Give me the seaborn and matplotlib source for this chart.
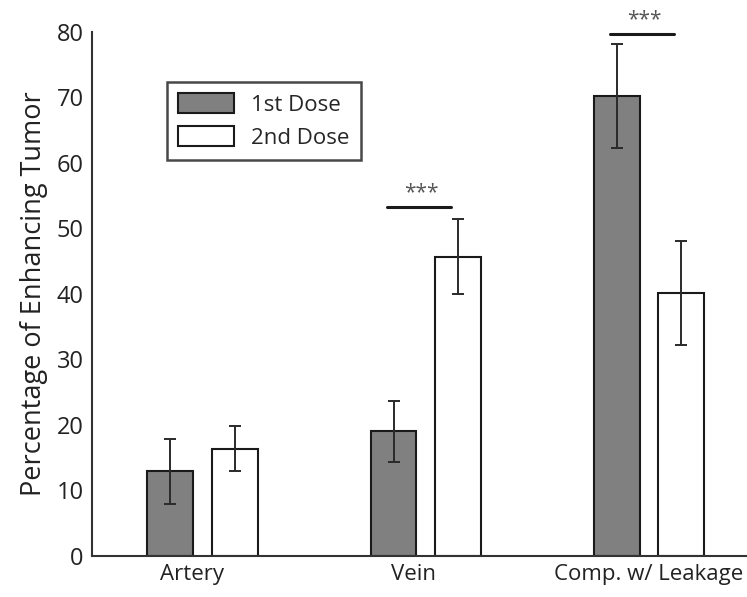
import pandas as pd
import matplotlib.pyplot as plt
import matplotlib.transforms as mtransforms
import seaborn as sns

# data
categories = ['Artery', 'Vein', 'Comp. w/ Leakage']
doses = ['1st Dose', '2nd Dose']
first_dose = [12.9, 19.0, 70.2]
second_dose = [16.4, 45.7, 40.1]
first_err = [4.9, 4.7, 8.0]
second_err = [3.4, 5.7, 7.9]
sig_pairs = ['Vein', 'Comp. w/ Leakage']
sig_heights = [53.2, 79.6]

df = pd.DataFrame({
    'Region': categories * 2,
    'Dose': [doses[0]] * 3 + [doses[1]] * 3,
    'Value': first_dose + second_dose,
    'Err': first_err + second_err,
})

sns.set_style('white')
plt.rcParams['font.family'] = ['Open Sans', 'DejaVu Sans']

fig = plt.figure(figsize=(7.47, 5.97), dpi=100)
ax = fig.add_axes([0.123, 0.0687, 0.877, 0.878])

sns.barplot(data=df, x='Region', y='Value', hue='Dose', order=categories,
            hue_order=doses, palette={'1st Dose': '#808080', '2nd Dose': 'white'},
            edgecolor='#1a1a1a', linewidth=1.5, width=0.577, gap=0.286,
            errorbar=None, ax=ax)

# error bars at the bar centres
bars = ax.patches[:6]
for bar, (_, row) in zip(bars, df.iterrows()):
    xc = bar.get_x() + bar.get_width() / 2
    ax.errorbar(xc, row['Value'], yerr=row['Err'], color='#2a2a2a',
                elinewidth=1.4, capsize=4, capthick=1.4)

# significance markers
for cat, h in zip(sig_pairs, sig_heights):
    i = categories.index(cat)
    b1, b2 = bars[i], bars[i + 3]
    x1 = b1.get_x() + b1.get_width() / 2
    x2 = b2.get_x() + b2.get_width() / 2
    ax.plot([x1 - 0.03, x2 - 0.03], [h, h], color='#1a1a1a', lw=2.2, clip_on=False)
    ax.text((x1 + x2) / 2 - 0.02, h + 0.6, '***', ha='center', va='bottom',
            fontsize=15, color='#555555', clip_on=False)

ax.set_ylim(0, 80)
ax.set_xlim(-0.496, 2.44)
ax.set_yticks(range(0, 81, 10))
ax.set_xlabel('')
ax.set_ylabel('Percentage of Enhancing Tumor', fontsize=19.5, color='#222222', labelpad=6)
ax.tick_params(axis='both', length=0, colors='#222222', pad=6)
ax.tick_params(axis='y', labelsize=17)
ax.tick_params(axis='x', labelsize=16)
for s in ['top', 'right']:
    ax.spines[s].set_visible(False)
for s in ['left', 'bottom']:
    ax.spines[s].set_color('#333333')
    ax.spines[s].set_linewidth(1.5)

# nudge the first two group labels slightly left, as in the original
for lbl, dx in zip(ax.get_xticklabels(), [-11, -12, 0]):
    lbl.set_transform(lbl.get_transform() + mtransforms.ScaledTranslation(dx / 100, 0, fig.dpi_scale_trans))

leg = ax.legend(loc='upper left', bbox_to_anchor=(0.1145, 0.905), borderaxespad=0,
                fontsize=16, frameon=True, fancybox=False, handlelength=2.5,
                handleheight=1.05, labelspacing=0.45, borderpad=0.5, handletextpad=0.8)
leg.get_frame().set_edgecolor('#1a1a1a')
leg.get_frame().set_linewidth(1.8)

fig.savefig('out.png', dpi=100)
